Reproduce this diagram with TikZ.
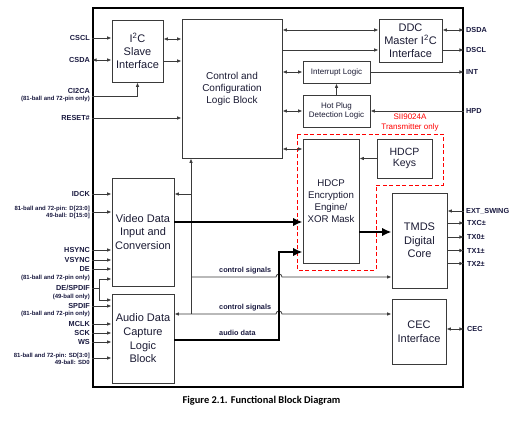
\documentclass[tikz,border=0pt]{standalone}
\usepackage{fontspec}
\setmainfont{Liberation Sans}
\newfontfamily\capfont{Carlito}
\usetikzlibrary{arrows.meta}
\definecolor{txt}{HTML}{1A1A33}
\definecolor{pin}{HTML}{1A1A40}
\definecolor{edge}{HTML}{3A3A3A}
\definecolor{sired}{HTML}{FF0000}
\begin{document}
\begin{tikzpicture}[x=1pt,y=-1pt,
  blk/.style={draw=edge, line width=0.9pt, inner sep=0pt, align=center, text=txt},
  wire/.style={draw=edge, line width=0.8pt},
  arr/.style={wire, -{Latex[length=4.5pt,width=3.6pt]}},
  darr/.style={wire, {Latex[length=4.5pt,width=3.6pt]}-{Latex[length=4.5pt,width=3.6pt]}},
  fat/.style={draw=black, line width=2.4pt, -{Latex[length=9.5pt,width=8.5pt]}},
  pinl/.style={anchor=east, inner sep=0pt, text=pin, align=right, font=\bfseries\fontsize{7.3}{7.5}\selectfont},
  pinr/.style={anchor=west, inner sep=0pt, text=pin, font=\bfseries\fontsize{7.3}{8}\selectfont},
  sig/.style={anchor=west, inner sep=0pt, text=pin, font=\bfseries\fontsize{7.3}{8}\selectfont},
]
\useasboundingbox (0,0) rectangle (523,425);

% outer frame
\node[draw=black, line width=1.8pt, minimum width=370pt, minimum height=379pt, inner sep=0pt] (frame) at (278,197.5) {};

% blocks
\node[blk, minimum width=51pt, minimum height=62pt, font=\fontsize{11}{13}\selectfont] (i2c) at (137.5,51) {I\textsuperscript{2}C\\Slave\\Interface};
\node[blk, minimum width=100pt, minimum height=139pt, font=\fontsize{10}{12}\selectfont] (ctrl) at (232,88.5) {Control and\\Configuration\\Logic Block};
\node[blk, minimum width=63pt, minimum height=43pt, font=\fontsize{11}{13}\selectfont] (ddc) at (410.5,40.5) {DDC\\Master I\textsuperscript{2}C\\Interface};
\node[blk, minimum width=67pt, minimum height=22pt, font=\fontsize{8}{9.5}\selectfont] (intr) at (336.5,72) {Interrupt Logic};
\node[blk, minimum width=67pt, minimum height=32pt, font=\fontsize{8}{9.5}\selectfont] (hpd) at (336.5,111) {Hot Plug\\Detection Logic};
\node[blk, minimum width=56pt, minimum height=124pt, font=\fontsize{9.7}{12}\selectfont] (hdcp) at (331,201) {HDCP\\Encryption\\Engine/\\XOR Mask};
\node[blk, minimum width=55pt, minimum height=39pt, font=\fontsize{10.5}{11.5}\selectfont] (keys) at (404.5,158.5) {HDCP\\Keys};
\node[blk, minimum width=55pt, minimum height=95pt, font=\fontsize{11}{13.5}\selectfont] (tmds) at (419.5,240.5) {TMDS\\Digital\\Core};
\node[blk, minimum width=54pt, minimum height=65pt, font=\fontsize{11}{14}\selectfont] (cec) at (419,331.5) {CEC\\Interface};
\node[blk, minimum width=62pt, minimum height=108pt, font=\fontsize{11}{13.5}\selectfont] (video) at (143,232) {Video Data\\Input and\\Conversion};
\node[blk, minimum width=62pt, minimum height=89pt, font=\fontsize{11}{13.7}\selectfont] (audio) at (143,338.5) {Audio Data\\Capture\\Logic\\Block};

% red dashed region
\draw[sired, line width=0.9pt, dash pattern=on 4pt off 2.5pt] (297,134) -- (443,134) -- (443,185) -- (376,185) -- (376,270) -- (297,270) -- cycle;
\node[text=sired, align=center, inner sep=0pt, font=\fontsize{8}{10}\selectfont] (silbl) at (410,123) {SII9024A\\Transmitter only};

% left pin labels
\node[pinl] (cscl) at (90,38) {CSCL};
\node[pinl] (csda) at (90,60) {CSDA};
\node[pinl] (ci2ca) at (90,95) {CI2CA\\{\fontsize{6}{7}\selectfont (81-ball and 72-pin only)}};
\node[pinl] (reset) at (90,118) {RESET\#};
\node[pinl] (idck) at (90,194) {IDCK};
\node[pinl, font=\bfseries\fontsize{6}{7}\selectfont] (dbus) at (90,212.5) {81-ball and 72-pin: D[23:0]\\49-ball: D[15:0]};
\node[pinl] (hsync) at (90,250) {HSYNC};
\node[pinl] (vsync) at (90,260) {VSYNC};
\node[pinl] (de) at (90,273.5) {DE\\{\fontsize{6}{7}\selectfont (81-ball and 72-pin only)}};
\node[pinl] (despdif) at (90,292.5) {DE/SPDIF\\{\fontsize{6}{7}\selectfont (49-ball only)}};
\node[pinl] (spdif) at (90,310) {SPDIF\\{\fontsize{6}{7}\selectfont (81-ball and 72-pin only)}};
\node[pinl] (mclk) at (90,324) {MCLK};
\node[pinl] (sck) at (90,333) {SCK};
\node[pinl] (ws) at (90,342) {WS};
\node[pinl, font=\bfseries\fontsize{6}{7}\selectfont] (sd) at (90,359) {81-ball and 72-pin: SD[3:0]\\49-ball: SD0};

% right pin labels
\node[pinr] (dsda) at (466,30) {DSDA};
\node[pinr] (dscl) at (466,50) {DSCL};
\node[pinr] (int) at (466,72) {INT};
\node[pinr] (hpdl) at (466,111) {HPD};
\node[pinr] (swing) at (466,211) {EXT\_SWING};
\node[pinr] (txc) at (467,223) {TXC±};
\node[pinr] (tx0) at (467,237) {TX0±};
\node[pinr] (tx1) at (467,250.5) {TX1±};
\node[pinr] (tx2) at (467,263.5) {TX2±};
\node[pinr] (cecl) at (467,329) {CEC};

% signal labels
\node[sig] (cs1) at (219,271) {control signals};
\node[sig] (cs2) at (219,308) {control signals};
\node[sig] (ad) at (219,333) {audio data};

% left inputs
\draw[arr] (frame.west |- 0,38) -- (i2c.west |- 0,38);
\draw[darr] (frame.west |- 0,60) -- (i2c.west |- 0,60);
\draw[arr] (frame.west |- 0,96) -| (i2c.south);
\draw[arr] (frame.west |- 0,118) -- (ctrl.west |- 0,118);
\draw[arr] (frame.west |- 0,194) -- (video.west |- 0,194);
\draw[arr] (frame.west |- 0,212) -- (video.west |- 0,212);
\draw[arr] (frame.west |- 0,250) -- (video.west |- 0,250);
\draw[arr] (frame.west |- 0,260) -- (video.west |- 0,260);
\draw[arr] (frame.west |- 0,269) -- (video.west |- 0,269);
\coordinate (split) at (99,288);
\draw[wire] (frame.west |- split) -- (split);
\draw[arr] (split) |- (video.west |- 0,279);
\draw[arr] (split) |- (audio.west |- 0,300);
\draw[arr] (frame.west |- 0,306) -- (audio.west |- 0,306);
\draw[arr] (frame.west |- 0,324) -- (audio.west |- 0,324);
\draw[arr] (frame.west |- 0,333) -- (audio.west |- 0,333);
\draw[arr] (frame.west |- 0,342) -- (audio.west |- 0,342);
\draw[arr] (frame.west |- 0,358) -- (audio.west |- 0,358);

% I2C to control
\draw[darr] (i2c.east |- 0,39) -- (ctrl.west |- 0,39);
\draw[arr] (i2c.east |- 0,61) -- (ctrl.west |- 0,61);

% control to right blocks
\draw[darr] (ctrl.east |- 0,30) -- (ddc.west |- 0,30);
\draw[arr] (ctrl.east |- 0,50) -- (ddc.west |- 0,50);
\draw[darr] (ctrl.east |- intr.west) -- (intr.west);
\draw[darr] (ctrl.east |- hpd.west) -- (hpd.west);
\draw[darr] (ctrl.east |- 0,149) -- (hdcp.west |- 0,149);
\draw[arr] (hpd.north) -- (intr.south);
\draw[arr] (keys.west) -- (hdcp.east |- keys.west);

% right outputs
\draw[darr] (ddc.east |- 0,30) -- (frame.east |- 0,30);
\draw[arr] (ddc.east |- 0,50) -- (frame.east |- 0,50);
\draw[arr] (intr.east) -- (frame.east |- intr.east);
\draw[arr] (frame.east |- 0,111) -- (hpd.east);
\draw[arr] (frame.east |- 0,211) -- (tmds.east |- 0,211);
\draw[arr] (tmds.east |- 0,223) -- (frame.east |- 0,223);
\draw[arr] (tmds.east |- 0,237) -- (frame.east |- 0,237);
\draw[arr] (tmds.east |- 0,250.5) -- (frame.east |- 0,250.5);
\draw[arr] (tmds.east |- 0,263.5) -- (frame.east |- 0,263.5);
\draw[darr] (cec.east |- 0,329) -- (frame.east |- 0,329);

% control bus
\coordinate (busV) at (191,194);
\coordinate (busC) at (191,277);
\coordinate (busB) at (191,314);
\draw[arr] (busB) -- (ctrl.south -| busB);
\draw[arr] (busV) -- (video.east |- busV);
\draw[arr] (busC) -- (276,277) arc[start angle=180, end angle=360, radius=3] -- (tmds.west |- busC);
\draw[darr] (audio.east |- busB) -- (276,314) arc[start angle=180, end angle=360, radius=3] -- (cec.west |- busB);

% thick data paths
\draw[fat] (video.east |- 0,222) -- (hdcp.west |- 0,222);
\draw[fat] (audio.east |- 0,340) -- (279,340) -- (279,252) -- (hdcp.west |- 0,252);
\draw[fat] (hdcp.east |- 0,232) -- (tmds.west |- 0,232);

% caption
\node[font=\capfont\bfseries\fontsize{10.4}{12}\selectfont, text=black, inner sep=0pt] (cap) at (261.5,401) {Figure 2.1. Functional Block Diagram};
\end{tikzpicture}
\end{document}
